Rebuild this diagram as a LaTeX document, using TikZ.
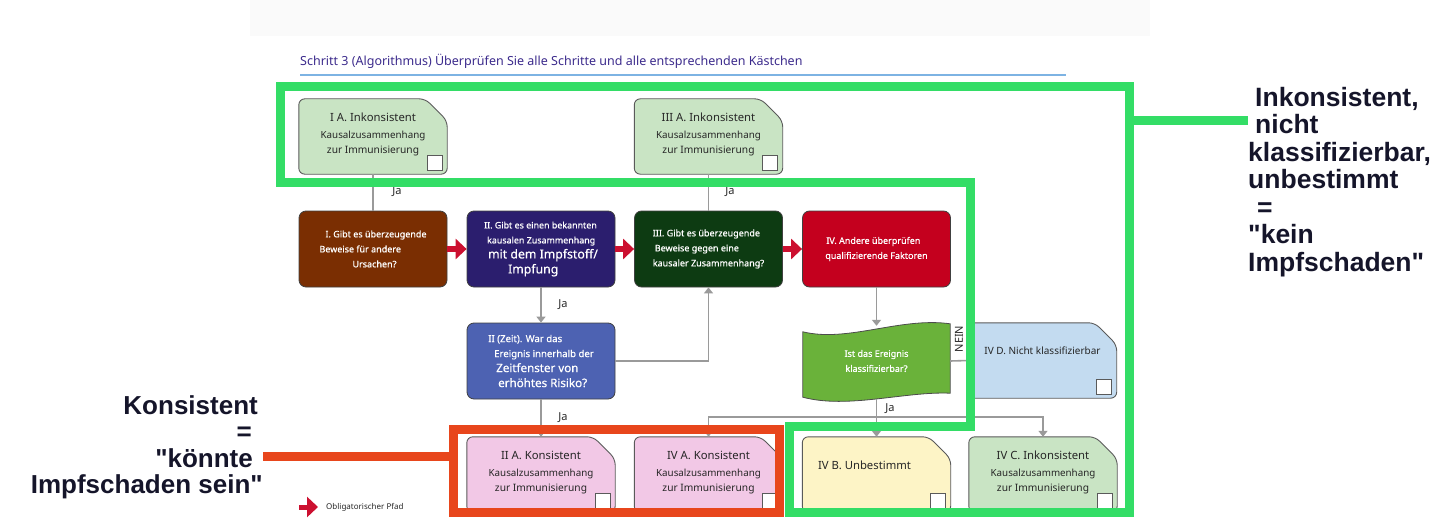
\documentclass[tikz,border=0pt]{standalone}
\usepackage{fontspec}
\setmainfont{Noto Sans}
\newfontfamily\bigfont{Liberation Sans}
\newfontfamily\qfont{Noto Sans}[FakeBold=0.6]
\usetikzlibrary{arrows.meta,backgrounds}

\definecolor{linegray}{HTML}{9A9A9A}
\definecolor{edgegray}{HTML}{5A5A5A}
\definecolor{incgreen}{HTML}{C9E4C4}
\definecolor{conpink}{HTML}{F2C8E6}
\definecolor{unkyellow}{HTML}{FDF4C6}
\definecolor{ncblue}{HTML}{C3DBF0}
\definecolor{qbrown}{HTML}{7A2E02}
\definecolor{qnavy}{HTML}{2B1E6E}
\definecolor{qdkgreen}{HTML}{0D3B12}
\definecolor{qred}{HTML}{C4001E}
\definecolor{qblue}{HTML}{4D62B2}
\definecolor{qgreen}{HTML}{6AB23A}
\definecolor{mustred}{HTML}{CC1030}
\definecolor{framegreen}{HTML}{33DD66}
\definecolor{framered}{HTML}{E8461C}
\definecolor{titleblue}{HTML}{3C2B8C}
\definecolor{rulelblue}{HTML}{7DB3E3}
\definecolor{textdark}{HTML}{15152A}

\newcommand{\fsz}[1]{\fontsize{#1}{15}\selectfont}
% result box outline: cut corner top right, tick box bottom right
\newcommand{\notebg}[2]{%
  \draw[notedge, fill=#2] (#1.south west) -- (#1.north west) -- ([xshift=-22pt]#1.north east)
    -- ([yshift=-22pt]#1.north east) -- (#1.south east) -- cycle;
  \draw[tickbox] ([shift={(-20pt,4pt)}]#1.south east) rectangle ++(15pt,15pt);}

\begin{document}
\begin{tikzpicture}[x=1pt,y=-1pt,
    note/.style={minimum width=148pt, minimum height=75pt, inner sep=0pt, align=center,
      text=black!85, font=\fsz{10}, text depth=7pt},
    notedge/.style={draw=edgegray, line width=0.9pt, rounded corners=6pt},
    tickbox/.style={draw=edgegray, fill=white, line width=0.8pt},
    qbox/.style={draw=black!75, line width=0.8pt, rounded corners=7pt, minimum width=148pt,
      minimum height=76pt, inner sep=0pt, text=white, align=left, font=\qfont\fsz{9}},
    conn/.style={draw=linegray, line width=1.6pt},
    arr/.style={-{Triangle[length=6pt,width=9pt]}},
    must/.style={draw=mustred, line width=6pt, -{Triangle[length=11pt,width=20pt]}},
    frameg/.style={draw=framegreen, line width=9pt},
    framer/.style={draw=framered, line width=9pt},
    ja/.style={text=black!85, font=\fsz{11}, inner sep=0pt}]
  \useasboundingbox (0,0) rectangle (1456,524);
  \fill[black!2] (250,0) rectangle (1150,36);

  % title
  \node (title) [anchor=base west, inner sep=0pt, text=titleblue, font=\fsz{12.5}] at (300,66)
    {Schritt 3 (Algorithmus) Überprüfen Sie alle Schritte und alle entsprechenden Kästchen};
  \draw[rulelblue, line width=1.6pt] (300,75) -- (1066,75);

  % result boxes
  \node[note] (ia) at (373,136.5) {{\fsz{11.3}I A. Inkonsistent}\\[2pt]{\fsz{9.8}Kausalzusammenhang}\\{\fsz{10.2}zur Immunisierung}};
  \node[note] (iiia) at (708.5,136.5) {{\fsz{11.3}III A. Inkonsistent}\\[2pt]{\fsz{9.8}Kausalzusammenhang}\\{\fsz{10.2}zur Immunisierung}};
  \node[note, text depth=19pt] (ivd) at (1042.5,360.5) {IV D. Nicht klassifizierbar};
  \node[note] (iia) at (541,474.5) {{\fsz{11.3}II A. Konsistent}\\[2pt]{\fsz{9.8}Kausalzusammenhang}\\{\fsz{10.2}zur Immunisierung}};
  \node[note] (iva) at (708.5,474.5) {{\fsz{11.3}IV A. Konsistent}\\[2pt]{\fsz{9.8}Kausalzusammenhang}\\{\fsz{10.2}zur Immunisierung}};
  \node[note, text depth=19pt, font=\fsz{11.3}] (ivb) at (876.5,474.5) {IV B. Unbestimmt\hspace*{24pt}};
  \node[note] (ivc) at (1043,474.5) {{\fsz{11.3}IV C. Inkonsistent}\\[2pt]{\fsz{9.8}Kausalzusammenhang}\\{\fsz{10.2}zur Immunisierung}};

  % questions
  \node[qbox, fill=qbrown] (i) at (373,249) {\hspace*{6pt}I. Gibt es überzeugende\\ Beweise für andere\\ \hspace*{33pt}Ursachen?};
  \node[qbox, fill=qnavy] (ii) at (541,249) {{\fsz{8.9}II. Gibt es einen bekannten}\\ \hspace*{3pt}{\fsz{8.9}kausalen Zusammenhang}\\ \hspace*{4pt}{\fsz{12.3}mit dem Impfstoff/}\\ \hspace*{24pt}{\fsz{12.3}Impfung}};
  \node[qbox, fill=qdkgreen] (iii) at (708.5,249) {III. Gibt es überzeugende\\ \hspace*{2pt}Beweise gegen eine\\ kausaler Zusammenhang?};
  \node[qbox, fill=qred] (iv) at (876.5,249) {\hspace*{1pt}IV. Andere überprüfen\\ qualifizierende Faktoren};
  \node[qbox, fill=qblue] (zeit) at (541,361) {{\fsz{9.6}II (Zeit). War das}\\ \hspace*{6pt}{\fsz{9.6}Ereignis innerhalb der}\\ \hspace*{8pt}{\fsz{11.6}Zeitfenster von}\\ \hspace*{10pt}{\fsz{11.6}erhöhtes Risiko?}};
  \node[minimum width=147pt, minimum height=76pt, inner sep=0pt, text=white, align=center, font=\qfont\fsz{9}] (wavy) at (876.5,361) {Ist das Ereignis\\ klassifizierbar?};

  \begin{scope}[on background layer]
    \notebg{ia}{incgreen}
    \notebg{iiia}{incgreen}
    \notebg{ivd}{ncblue}
    \notebg{iia}{conpink}
    \notebg{iva}{conpink}
    \notebg{ivb}{unkyellow}
    \notebg{ivc}{incgreen}
    \draw[draw=black!70, line width=0.8pt, fill=qgreen] ([yshift=-9pt]wavy.north west)
      .. controls ([shift={(45pt,-20pt)}]wavy.north west) and ([shift={(-50pt,6pt)}]wavy.north east) .. ([yshift=-1pt]wavy.north east)
      -- ([yshift=6pt]wavy.south east)
      .. controls ([shift={(-45pt,8pt)}]wavy.south east) and ([shift={(45pt,-10pt)}]wavy.south west) .. ([yshift=2pt]wavy.south west)
      -- cycle;
  \end{scope}

  % connectors
  \draw[conn] (i.north) -- (ia.south);
  \draw[conn] (iii.north) -- (iiia.south);
  \draw[conn, arr] (ii.south) -- (zeit.north);
  \draw[conn, arr] (zeit.east) -| (iii.south);
  \draw[conn, arr] (zeit.south) -- (iia.north);
  \draw[conn, arr] (iv.south) -- ([yshift=-3pt]wavy.north);
  \draw[conn] (wavy.east) -- (ivd.west);
  \coordinate (jafork) at (876.5,417);
  \draw[conn, arr] (wavy.south) -- (ivb.north);
  \draw[conn, arr] (jafork) -| (iva.north);
  \draw[conn, arr] (jafork) -| (ivc.north);

  \node[ja] (jaia) at (397,192) {Ja};
  \node[ja] (jaiiia) at (730,192) {Ja};
  \node[ja] (jazeit) at (563,305) {Ja};
  \node[ja] (jaiia) at (563,418) {Ja};
  \node[ja] (jaivb) at (890,409) {Ja};
  \node[ja, rotate=90] (nein) at (959,339) {NEIN};

  % obligatory path
  \draw[must] (i.east) -- (ii.west);
  \draw[must] (ii.east) -- (iii.west);
  \draw[must] (iii.east) -- (iv.west);
  \node (legend) [anchor=west, inner sep=0pt, text=black!85, font=\fsz{8}] at (326,507) {Obligatorischer Pfad};
  \coordinate (legtail) at (299,507);
  \draw[must, line width=5pt] (legtail) -- ++(19,0);

  % side texts
  \node (rtext) [anchor=north west, align=left, inner sep=0pt, text=textdark,
    font=\bigfont\bfseries\fontsize{26.5}{27.5}\selectfont] at (1248,87)
    {\hspace*{7pt}Inkonsistent,\\ \hspace*{7pt}nicht\\ klassifizierbar,\\ unbestimmt\\ \hspace*{9pt}=\\ "kein\\ Impfschaden"};
  \node (ltext) [anchor=north east, align=right, inner sep=0pt, text=textdark,
    font=\bigfont\bfseries\fontsize{26}{26.5}\selectfont] at (263,395)
    {Konsistent\hspace{5pt}\mbox{}\\ =\hspace{11pt}\mbox{}\\ "könnte\hspace{10pt}\mbox{}\\ Impfschaden sein"};

  % frames
  \draw[frameg, line join=miter] (280,87) -- (1129,87) -- (1129,512) -- (789,512) -- (789,426)
    -- (970,426) -- (970,182) -- (280,182) -- cycle;
  \coordinate (gtap) at (1129,121);
  \draw[frameg] (gtap) -- (gtap -| rtext.west);
  \draw[framer] (453,429) rectangle (779,512);
  \coordinate (rtap) at (453,456);
  \draw[framer] (rtap) -- (rtap -| ltext.east);
\end{tikzpicture}
\end{document}
